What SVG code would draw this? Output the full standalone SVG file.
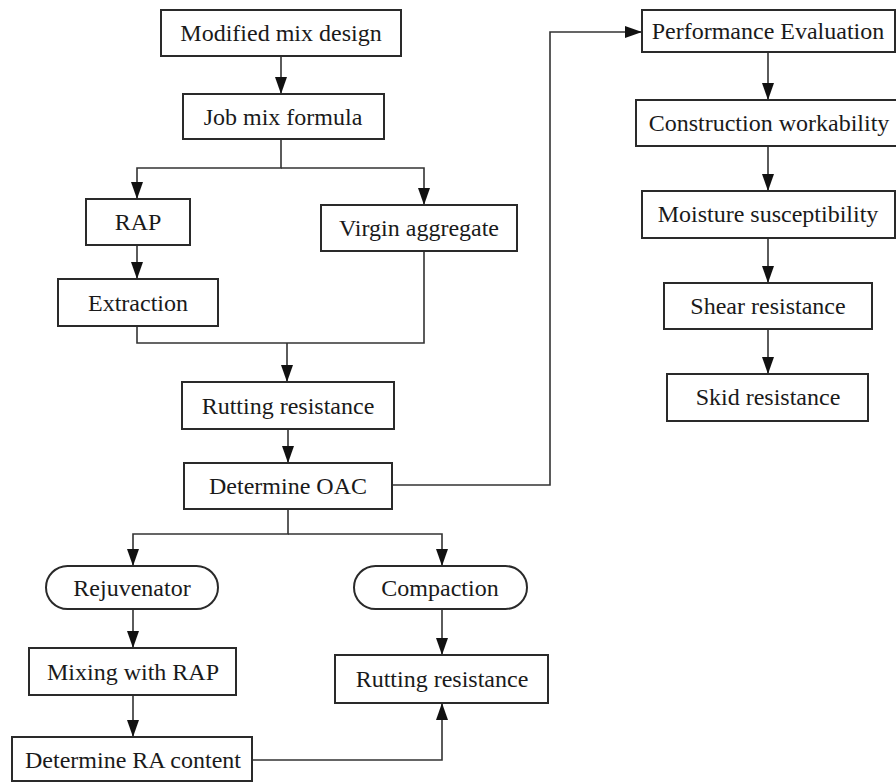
<svg xmlns="http://www.w3.org/2000/svg" width="896" height="782" viewBox="0 0 896 782">
<defs>
<marker id="ah" markerUnits="userSpaceOnUse" markerWidth="17" markerHeight="12" viewBox="0 0 17 12" refX="17" refY="6" orient="auto">
<path d="M0,0 L17,6 L0,12 z" fill="#111"/>
</marker>
<style>
.box{fill:#fff;stroke:#2a2a2a;stroke-width:2}
.lbl{font-family:"Liberation Serif","Times New Roman",serif;font-size:24px;fill:#1a1a1a;text-anchor:middle}
.ln{fill:none;stroke:#333;stroke-width:1.6}
.arr{fill:none;stroke:#333;stroke-width:1.6;marker-end:url(#ah)}
</style>
</defs>
<rect width="896" height="782" fill="#fff"/>
<g id="connectors">
<path class="arr" d="M281,56 V94"/>
<path class="arr" d="M281,139 V168 H137 V199"/>
<path class="arr" d="M281,168 H424 V205"/>
<path class="arr" d="M137,245 V279"/>
<path class="ln" d="M137,326 V343 H424 V251"/>
<path class="arr" d="M287,343 V382"/>
<path class="arr" d="M288,429 V463"/>
<path class="arr" d="M392,485 H550 V32 H642"/>
<path class="arr" d="M288,509 V534 H133 V566"/>
<path class="arr" d="M288,534 H442 V566"/>
<path class="arr" d="M768,52 V100"/>
<path class="arr" d="M768,146 V191"/>
<path class="arr" d="M768,238 V283"/>
<path class="arr" d="M768,329 V374"/>
<path class="arr" d="M133,609 V648"/>
<path class="arr" d="M133,695 V737"/>
<path class="arr" d="M442,609 V655"/>
<path class="arr" d="M252,760 H442 V703"/>
</g>
<g id="modified-mix-design"><rect class="box" x="161" y="10" width="240" height="46"/><text class="lbl" x="281" y="41">Modified mix design</text></g>
<g id="job-mix-formula"><rect class="box" x="183" y="94" width="201" height="45"/><text class="lbl" x="283" y="125">Job mix formula</text></g>
<g id="rap"><rect class="box" x="86" y="199" width="104" height="46"/><text class="lbl" x="138" y="230">RAP</text></g>
<g id="virgin-aggregate"><rect class="box" x="321" y="205" width="196" height="46"/><text class="lbl" x="419" y="236">Virgin aggregate</text></g>
<g id="extraction"><rect class="box" x="58" y="279" width="160" height="47"/><text class="lbl" x="138" y="311">Extraction</text></g>
<g id="rutting-resistance-1"><rect class="box" x="182" y="382" width="212" height="47"/><text class="lbl" x="288" y="414">Rutting resistance</text></g>
<g id="determine-oac"><rect class="box" x="184" y="463" width="208" height="46"/><text class="lbl" x="288" y="494">Determine OAC</text></g>
<g id="rejuvenator"><rect class="box" x="46" y="566" width="172" height="43" rx="21.5" ry="21.5"/><text class="lbl" x="132" y="596">Rejuvenator</text></g>
<g id="compaction"><rect class="box" x="354" y="566" width="173" height="43" rx="21.5" ry="21.5"/><text class="lbl" x="440" y="596">Compaction</text></g>
<g id="mixing-with-rap"><rect class="box" x="29" y="648" width="207" height="47"/><text class="lbl" x="133" y="680">Mixing with RAP</text></g>
<g id="rutting-resistance-2"><rect class="box" x="335" y="655" width="213" height="48"/><text class="lbl" x="442" y="687">Rutting resistance</text></g>
<g id="determine-ra-content"><rect class="box" x="12" y="737" width="240" height="44"/><text class="lbl" x="133" y="768">Determine RA content</text></g>
<g id="performance-evaluation"><rect class="box" x="642" y="10" width="253" height="42"/><text class="lbl" x="768" y="39">Performance Evaluation</text></g>
<g id="construction-workability"><rect class="box" x="636" y="100" width="261" height="46"/><text class="lbl" x="769" y="131">Construction workability</text></g>
<g id="moisture-susceptibility"><rect class="box" x="642" y="191" width="253" height="47"/><text class="lbl" x="768" y="222">Moisture susceptibility</text></g>
<g id="shear-resistance"><rect class="box" x="664" y="283" width="208" height="46"/><text class="lbl" x="768" y="314">Shear resistance</text></g>
<g id="skid-resistance"><rect class="box" x="667" y="374" width="201" height="47"/><text class="lbl" x="768" y="405">Skid resistance</text></g>
</svg>
